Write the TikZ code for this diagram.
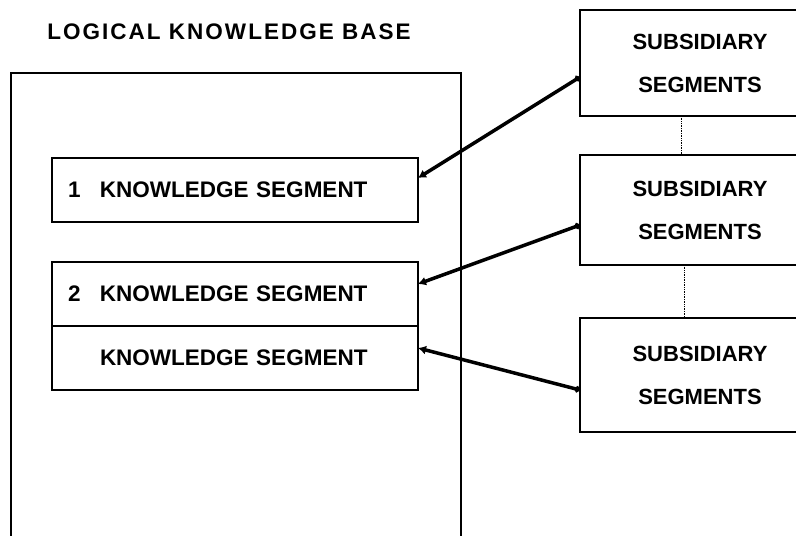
\documentclass[tikz,border=0pt]{standalone}
\usepackage{fontspec}
\setsansfont{Liberation Sans}
\newfontfamily\headfont[LetterSpace=9]{Liberation Sans}
\usetikzlibrary{positioning,arrows.meta}

\begin{document}
\begin{tikzpicture}[x=1pt, y=-1pt,
  base/.style={draw, line width=1.5pt, outer sep=0pt},
  seg/.style={base, minimum width=366pt, minimum height=64pt,
              text width=334pt, inner xsep=16pt, inner ysep=0pt, align=left,
              font=\sffamily\bfseries\fontsize{22.5}{26}\selectfont},
  sub/.style={base, minimum width=240pt, minimum height=108pt, align=center,
              font=\sffamily\bfseries\fontsize{22}{43}\selectfont},
  link/.style={{Circle[length=6pt]}-{Latex[length=8pt,width=9pt]}, line width=3.5pt},
]
  \useasboundingbox (0,0) rectangle (796,536);
  \clip (0,0) rectangle (796,536);

  % the knowledge base and its segments
  \node[font=\headfont\bfseries\fontsize{22.5}{26}\selectfont] (title) at (229,32) {LOGICAL KNOWLEDGE BASE};
  \node[base, anchor=north west, minimum width=450pt, minimum height=500pt] (kb) at (11,73) {};

  \node[seg, anchor=north west] (seg1) at (52,158) {\makebox[32pt][l]{1}KNOWLEDGE SEGMENT};
  \node[seg, below=40pt of seg1] (seg2) {\makebox[32pt][l]{2}KNOWLEDGE SEGMENT};
  \node[seg, below=0pt of seg2] (seg3) {\hspace*{32pt}KNOWLEDGE SEGMENT};

  % subsidiary segments on the right
  \node[sub, anchor=north west, minimum height=106pt] (sub1) at (580,10) {SUBSIDIARY\\SEGMENTS};
  \node[sub, below=39pt of sub1, minimum height=110pt] (sub2) {SUBSIDIARY\\SEGMENTS};
  \node[sub, below=53pt of sub2, minimum height=114pt] (sub3) {SUBSIDIARY\\SEGMENTS};

  \draw[densely dotted, line width=0.7pt] ([xshift=-19pt]sub1.south) -- ([xshift=-19pt]sub2.north);
  \draw[densely dotted, line width=0.7pt] ([xshift=-16pt]sub2.south) -- ([xshift=-16pt]sub3.north);

  \draw[link] ([yshift=-14pt]sub1.west) -- ([yshift=12pt]seg1.east);
  \draw[link] ([yshift=-15pt]sub2.west) -- ([yshift=10pt]seg2.east);
  \draw[link] ([yshift=-15pt]sub3.west) -- ([yshift=10pt]seg3.east);
\end{tikzpicture}
\end{document}
